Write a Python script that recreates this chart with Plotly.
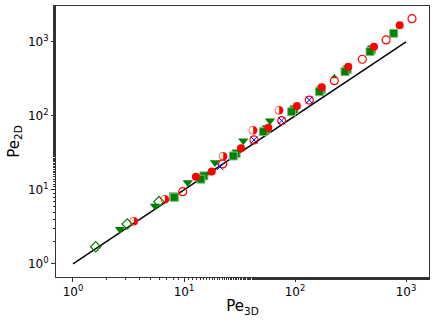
import plotly.graph_objects as go

# --- data (Pe_3D, Pe_2D) ---
red_filled_x = [12.8, 17.8, 32.6, 57.5, 104, 174, 302, 515, 877]
red_filled_y = [15.1, 17.7, 36.6, 69.5, 136, 244, 464, 865, 1683]

red_open_x = [9.73, 22.3, 42.7, 75.9, 134.6, 226, 404, 661, 1132]
red_open_y = [9.49, 22.5, 47.4, 86.4, 164, 300, 584, 1064, 2065]

red_half_x = [3.54, 6.74, 22.6, 42.1, 72.2]
red_half_y = [3.78, 7.48, 28.2, 64.7, 118]

green_sq_x = [8.18, 14.2, 27.8, 51.8, 93.3, 165.6, 282, 474, 775]
green_sq_y = [7.96, 14.0, 28.8, 61.4, 114, 213, 397, 740, 1310]

green_sq2_x = [8.0, 15.1, 29.5, 55.0, 98.0, 172, 295, 490]
green_sq2_y = [8.1, 15.5, 31.0, 66.0, 122, 226, 425, 790]

green_tri_down_x = [2.65, 5.48, 10.8, 19.0, 34.2, 59.5]
green_tri_down_y = [2.94, 6.08, 12.6, 23.6, 46.4, 86.4]

green_tri_up_x = [16.5, 226]
green_tri_up_y = [16.6, 340]

green_diamond_x = [1.60, 3.08, 5.95]
green_diamond_y = [1.71, 3.47, 6.95]

blue_x_x = [21.1, 42.7, 75.9, 134.6]
blue_x_y = [20.6, 47.4, 86.4, 164]

line_x = [1, 1000]
line_y = [1, 1000]

RED = "#ff0000"
GREEN = "#008000"
BLUE = "#0000ff"

fig = go.Figure()

fig.add_trace(go.Scatter(x=line_x, y=line_y, mode="lines",
                         line=dict(color="black", width=1.5)))

fig.add_trace(go.Scatter(x=green_diamond_x, y=green_diamond_y, mode="markers",
                         marker=dict(symbol="diamond-open", size=8, color=GREEN,
                                     line=dict(width=1.2, color=GREEN))))
fig.add_trace(go.Scatter(x=green_tri_down_x, y=green_tri_down_y, mode="markers",
                         marker=dict(symbol="triangle-down", size=9, color=GREEN,
                                     line=dict(width=0))))
fig.add_trace(go.Scatter(x=green_sq2_x, y=green_sq2_y, mode="markers",
                         marker=dict(symbol="square", size=8, color=GREEN,
                                     line=dict(width=1, color="#7fbf7f"))))
fig.add_trace(go.Scatter(x=green_sq_x, y=green_sq_y, mode="markers",
                         marker=dict(symbol="square", size=8, color=GREEN,
                                     line=dict(width=1, color="#7fbf7f"))))
fig.add_trace(go.Scatter(x=green_tri_up_x, y=green_tri_up_y, mode="markers",
                         marker=dict(symbol="triangle-up", size=6, color=GREEN,
                                     line=dict(width=0))))
fig.add_trace(go.Scatter(x=red_filled_x, y=red_filled_y, mode="markers",
                         marker=dict(symbol="circle", size=8, color=RED,
                                     line=dict(width=0))))
fig.add_trace(go.Scatter(x=red_open_x, y=red_open_y, mode="markers",
                         marker=dict(symbol="circle-open", size=8, color=RED,
                                     line=dict(width=1.2, color=RED))))
# half-filled circles drawn with a glyph
fig.add_trace(go.Scatter(x=red_half_x, y=red_half_y, mode="text", text=["◑"] * len(red_half_x),
                         textposition="middle center",
                         textfont=dict(family="DejaVu Sans", size=11, color=RED)))
fig.add_trace(go.Scatter(x=blue_x_x, y=blue_x_y, mode="markers",
                         marker=dict(symbol="x-thin-open", size=7, color=BLUE,
                                     line=dict(width=1, color=BLUE))))

tickvals = [1, 10, 100, 1000]
ticktext = ["10<sup>0</sup>", "10<sup>1</sup>", "10<sup>2</sup>", "10<sup>3</sup>"]

axis_common = dict(
    type="log", tickvals=tickvals, ticktext=ticktext,
    showgrid=False, zeroline=False, automargin=False,
    showline=True, linecolor="#333333", linewidth=1, mirror=True,
    ticks="outside", ticklen=4, tickcolor="#333333",
    minor=dict(ticks="outside", ticklen=2, tickcolor="#333333", showgrid=False),
    tickfont=dict(family="DejaVu Sans", size=12, color="black"),
)

fig.update_xaxes(**axis_common, range=[-0.153, 3.207],
                 title=dict(text="Pe<sub>3D</sub>", standoff=2,
                            font=dict(family="DejaVu Sans", size=15, color="black")))
fig.update_yaxes(**axis_common, range=[-0.176, 3.486],
                 title=dict(text="Pe<sub>2D</sub>", standoff=4,
                            font=dict(family="DejaVu Sans", size=15, color="black")))

fig.update_layout(
    width=436, height=323,
    margin=dict(l=56, r=7, t=6, b=46),
    showlegend=False,
    plot_bgcolor="white", paper_bgcolor="white",
)

# drop the default page margin so the figure sits at the window's corner
fig.write_html("out.html", config={"displayModeBar": False},
               post_script="document.body.style.margin='0';")
